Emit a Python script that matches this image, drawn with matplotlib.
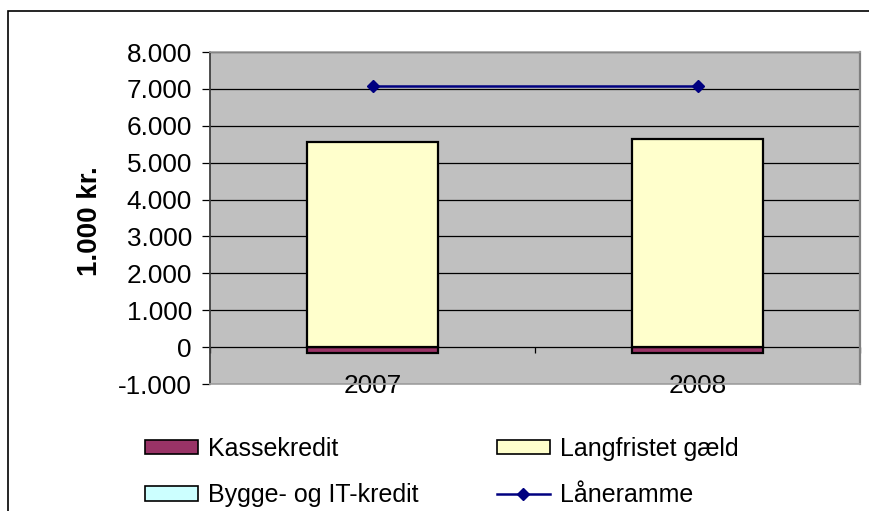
import matplotlib
matplotlib.use("Agg")
import matplotlib.pyplot as plt
from matplotlib.patches import Patch, Rectangle
from matplotlib.lines import Line2D
from matplotlib.ticker import FuncFormatter

plt.rcParams['font.family'] = ['Liberation Sans', 'DejaVu Sans']

years = ["2007", "2008"]
kassekredit = [-165, -160]
bygge_it = [0, 0]
langfristet = [5560, 5630]
laaneramme = [7070, 7070]

FS = 18.8
LFS = 18

fig = plt.figure(figsize=(8.69, 5.11), dpi=100)
ax = fig.add_axes([210/869, 1-384/511, 650/869, 332/511])
ax.set_facecolor('#C0C0C0')

x = list(range(len(years)))
w = 0.403
ax.bar(x, kassekredit, w, color='#993366', edgecolor='black', linewidth=1.6, zorder=3)
ax.bar(x, bygge_it, w, color='#CCFFFF', edgecolor='black', linewidth=1.6, zorder=3)
ax.bar(x, langfristet, w, bottom=bygge_it, color='#FFFFCC', edgecolor='black', linewidth=1.6, zorder=3)
ax.plot(x, laaneramme, color='#000080', linewidth=1.8, marker='D', markersize=6.6,
        markerfacecolor='#000080', markeredgecolor='#000080', zorder=4)

ax.set_xlim(-0.5, 1.5)
ax.set_ylim(-1000, 8000)
ax.set_yticks(range(-1000, 8001, 1000))
ax.yaxis.set_major_formatter(FuncFormatter(lambda v, p: f"{int(v):,}".replace(",", ".")))
ax.grid(axis='y', color='black', linewidth=0.9, zorder=1)
ax.set_axisbelow(True)
ax.tick_params(axis='y', direction='out', length=6, width=0.9, color='black', labelsize=FS, pad=7)
ax.set_xticks(x)
ax.set_xticklabels(years)
ax.tick_params(axis='x', length=0, labelsize=FS, pad=-7)
for lab in ax.get_xticklabels():
    lab.set_zorder(5)
ax.spines['left'].set_color('#404040')
ax.spines['left'].set_linewidth(1.3)
ax.spines['right'].set_color('#808080')
ax.spines['right'].set_linewidth(1.6)
ax.spines['top'].set_color('#A0A0A0')
ax.spines['top'].set_linewidth(1.2)
ax.spines['bottom'].set_color('#A0A0A0')
ax.spines['bottom'].set_linewidth(1.2)

# category boundary ticks on zero line
ax.vlines([-0.5, 0.5, 1.5], -150, 0, colors='black', linewidth=0.9, zorder=2, clip_on=False)

fig.text(90/869, 1-221/511, "1.000 kr.", rotation=90, ha='center', va='center',
         fontsize=20, fontweight='bold')

# outer chart border
fig.patches.append(Rectangle((8/869, -0.05), 1.0, 1-11/511+0.05, transform=fig.transFigure,
                             fill=False, edgecolor='black', linewidth=1.2))

handles = [
    Patch(facecolor='#993366', edgecolor='black', linewidth=1.2),
    Patch(facecolor='#CCFFFF', edgecolor='black', linewidth=1.2),
    Patch(facecolor='#FFFFCC', edgecolor='black', linewidth=1.2),
    Line2D([], [], color='#000080', linewidth=1.8, marker='D', markersize=6.6),
]
labels = ["Kassekredit", "Bygge- og IT-kredit", "Langfristet gæld", "Låneramme"]
fig.legend(handles, labels, ncol=2, loc='upper left', bbox_to_anchor=(145/869, 1-437/511),
           frameon=False, fontsize=LFS, handlelength=2.1, handleheight=0.52,
           handletextpad=0.44, columnspacing=3.12, labelspacing=0.89, borderpad=0, borderaxespad=0)

fig.savefig("out.png", dpi=100)
